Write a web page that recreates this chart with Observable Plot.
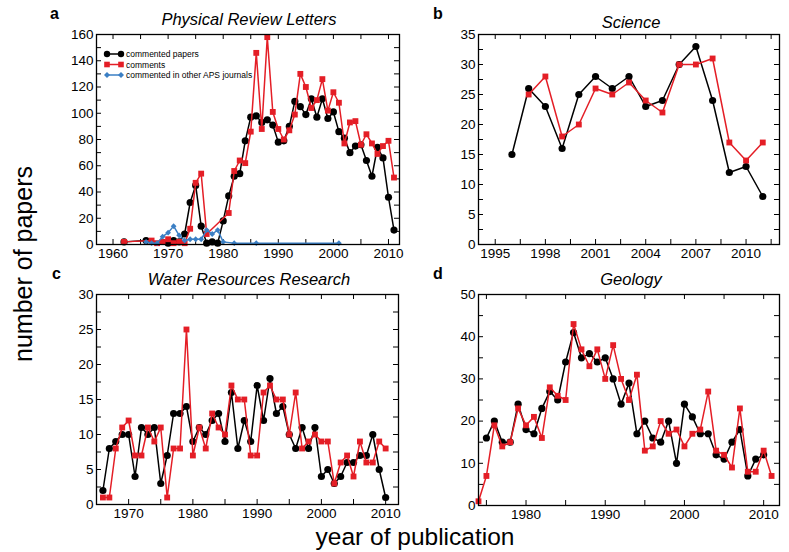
<!DOCTYPE html>
<html>
<head>
<meta charset="utf-8">
<script src="https://cdn.jsdelivr.net/npm/d3@7"></script>
<script src="https://cdn.jsdelivr.net/npm/@observablehq/plot@0.6"></script>
<style>
  html, body { margin: 0; padding: 0; background: #fff; }
  #wrap { position: relative; width: 789px; height: 552px; overflow: hidden; background: #fff;
          font-family: "Liberation Sans", Arial, Helvetica, sans-serif; }
  .panel { position: absolute; }
  #overlay { position: absolute; left: 0; top: 0; pointer-events: none; }
  #overlay text { font-family: "Liberation Sans", Arial, Helvetica, sans-serif; fill: #000; }
</style>
</head>
<body>
<div id="wrap">
  <div class="panel" id="pa" style="left:0px;top:0px"></div>
  <div class="panel" id="pb" style="left:400px;top:0px"></div>
  <div class="panel" id="pc" style="left:0px;top:262px"></div>
  <div class="panel" id="pd" style="left:400px;top:262px"></div>
  <svg id="overlay" width="789" height="552" viewBox="0 0 789 552">
    <text x="50" y="19" font-size="16" font-weight="bold">a</text>
    <text x="433" y="19" font-size="16" font-weight="bold">b</text>
    <text x="52" y="279" font-size="16" font-weight="bold">c</text>
    <text x="433" y="279" font-size="16" font-weight="bold">d</text>
    <text x="249" y="25" font-size="16.5" font-style="italic" text-anchor="middle">Physical Review Letters</text>
    <text x="631" y="28" font-size="16.5" font-style="italic" text-anchor="middle">Science</text>
    <text x="249" y="285" font-size="16.5" font-style="italic" text-anchor="middle">Water Resources Research</text>
    <text x="631" y="285" font-size="16.5" font-style="italic" text-anchor="middle">Geology</text>
    <text transform="translate(32,264) rotate(-90)" font-size="25" text-anchor="middle">number of papers</text>
    <text x="415" y="545" font-size="24.5" text-anchor="middle">year of publication</text>
    <g id="legend">
      <line x1="107" y1="54" x2="121" y2="54" stroke="#000" stroke-width="1.5"/>
      <circle cx="107" cy="54" r="3.2" fill="#000"/>
      <circle cx="121" cy="54" r="3.2" fill="#000"/>
      <text x="126" y="57" font-size="8.5">commented papers</text>
      <line x1="107" y1="64.5" x2="121" y2="64.5" stroke="#e41e26" stroke-width="1.5"/>
      <rect x="104.2" y="61.7" width="5.6" height="5.6" fill="#e41e26"/>
      <rect x="118.2" y="61.7" width="5.6" height="5.6" fill="#e41e26"/>
      <text x="126" y="67.5" font-size="8.5">comments</text>
      <line x1="107" y1="75" x2="121" y2="75" stroke="#3b7fc4" stroke-width="1.5"/>
      <path d="M107,72 L110,75 L107,78 L104,75 Z" fill="#3b7fc4"/>
      <path d="M121,72 L124,75 L121,78 L118,75 Z" fill="#3b7fc4"/>
      <text x="126" y="78" font-size="8.5">commented in other APS journals</text>
    </g>
  </svg>
</div>
<script>
// ---------------- DATA ----------------
// (a) Physical Review Letters
const prlPaperYears = [1962,1966,1970,1971,1972,1973,1974,1975,1976,1977,1978,1979,1980,1981,1982,1983,1984,1985,1986,1987,1988,1989,1990,1991,1992,1993,1994,1995,1996,1997,1998,1999,2000,2001,2002,2003,2004,2005,2006,2007,2008,2009,2010,2011];
const prlPapers = [2,3,1,3,2,8,32,45,14,1,2,1,18,37,52,54,79,97,98,93,95,91,78,79,90,109,105,99,111,97,111,96,101,86,81,70,75,76,64,52,74,66,36,11];
const prlCommentYears = [1962,1967,1968,1969,1970,1971,1972,1973,1974,1975,1976,1977,1981,1982,1983,1984,1985,1986,1987,1988,1989,1990,1991,1992,1993,1994,1995,1996,1997,1998,1999,2000,2001,2002,2003,2004,2005,2006,2007,2008,2009,2010,2011];
const prlComments = [2,3,1,2,4,1,2,1,12,47,54,8,24,56,64,62,86,146,88,158,101,88,80,87,99,130,120,104,110,126,102,116,108,77,93,94,76,84,77,69,75,79,51];
const prlOtherYears = [1966,1967,1968,1969,1970,1971,1972,1973,1974,1975,1976,1977,1978,1979,1980,1982,1986,2001];
const prlOther = [2,1,1,6,9,14,7,3,4,4,4,11,8,11,2,1,1,1];
const prlXTicks = [1960,1965,1970,1975,1980,1985,1990,1995,2000,2005,2010];
const prlXLabels = [1960,1970,1980,1990,2000,2010];
const prlYTicks = [0,10,20,30,40,50,60,70,80,90,100,110,120,130,140,150,160];
const prlYLabels = [0,20,40,60,80,100,120,140,160];

// (b) Science
const sciPaperYears = [1996,1997,1998,1999,2000,2001,2002,2003,2004,2005,2006,2007,2008,2009,2010,2011];
const sciPapers = [15,26,23,16,25,28,26,28,23,24,30,33,24,12,13,8];
const sciCommentYears = [1997,1998,1999,2000,2001,2002,2003,2004,2005,2006,2007,2008,2009,2010,2011];
const sciComments = [25,28,18,20,26,25,27,24,22,30,30,31,17,14,17];
const sciXTicks = [1995,1996.5,1998,1999.5,2001,2002.5,2004,2005.5,2007,2008.5,2010,2011.5];
const sciXLabels = [1995,1998,2001,2004,2007,2010];
const sciYTicks = [0,2.5,5,7.5,10,12.5,15,17.5,20,22.5,25,27.5,30,32.5,35];
const sciYLabels = [0,5,10,15,20,25,30,35];

// (c) Water Resources Research
const wrrYears = [1966,1967,1968,1969,1970,1971,1972,1973,1974,1975,1976,1977,1978,1979,1980,1981,1982,1983,1984,1985,1986,1987,1988,1989,1990,1991,1992,1993,1994,1995,1996,1997,1998,1999,2000,2001,2002,2003,2004,2005,2006,2007,2008,2009,2010];
const wrrPapers = [2,8,9,10,10,4,11,10,11,3,7,13,13,14,9,11,10,12,13,9,16,8,12,9,17,12,18,13,14,10,8,11,8,11,4,5,3,4,6,6,7,7,10,5,1];
const wrrComments = [1,1,8,11,12,7,7,11,9,11,1,8,8,25,7,11,8,13,11,10,17,15,15,7,7,16,17,15,15,10,16,8,9,10,9,9,3,6,7,4,9,6,6,9,8];
const wrrXTicks = [1965,1970,1975,1980,1985,1990,1995,2000,2005,2010];
const wrrXLabels = [1970,1980,1990,2000,2010];
const wrrYTicks = [0,2.5,5,7.5,10,12.5,15,17.5,20,22.5,25,27.5,30];
const wrrYLabels = [0,5,10,15,20,25,30];

// (d) Geology
const geoPaperYears = [1975,1976,1977,1978,1979,1980,1981,1982,1983,1984,1985,1986,1987,1988,1989,1990,1991,1992,1993,1994,1995,1996,1997,1998,1999,2000,2001,2002,2003,2004,2005,2006,2007,2008,2009,2010];
const geoPapers = [16,20,15,15,24,18,17,23,27,25,34,41,35,36,34,35,30,24,29,17,20,16,15,20,10,24,21,17,17,12,11,15,18,7,11,12];
const geoCommentYears = [1974,1975,1976,1977,1978,1979,1980,1981,1982,1983,1984,1985,1986,1987,1988,1989,1990,1991,1992,1993,1994,1995,1996,1997,1998,1999,2000,2001,2002,2003,2004,2005,2006,2007,2008,2009,2010,2011];
const geoComments = [1,7,19,14,15,23,19,21,16,28,26,25,43,37,33,37,30,38,30,25,31,13,14,20,17,18,14,17,18,27,13,12,9,23,8,8,13,7];
const geoXTicks = [1975,1980,1985,1990,1995,2000,2005,2010];
const geoXLabels = [1980,1990,2000,2010];
const geoYTicks = [0,5,10,15,20,25,30,35,40,45,50];
const geoYLabels = [0,10,20,30,40,50];

// ---------------- STYLE ----------------
const BLACK = "#000000";
const RED = "#e41e26";
const BLUE = "#3b7fc4";
const diamond = d3.symbolDiamond2 || "diamond";

function rows(years, vals) { return years.map((y, i) => ({year: y, n: vals[i]})); }

function panel(el, cfg) {
  const H = cfg.height - cfg.mt - cfg.mb;
  const W = cfg.width - cfg.ml - cfg.mr;
  const tk = 5;
  const marks = [];
  // tick marks, inward on all four sides
  marks.push(Plot.ruleX(cfg.xTicks, {x: d => d, insetTop: H - tk, stroke: BLACK, strokeWidth: 1}));
  marks.push(Plot.ruleX(cfg.xTicks, {x: d => d, insetBottom: H - tk, stroke: BLACK, strokeWidth: 1}));
  marks.push(Plot.ruleY(cfg.yTicks, {y: d => d, insetRight: W - tk, stroke: BLACK, strokeWidth: 1}));
  marks.push(Plot.ruleY(cfg.yTicks, {y: d => d, insetLeft: W - tk, stroke: BLACK, strokeWidth: 1}));
  marks.push(Plot.axisX(cfg.xLabels, {anchor: "bottom", tickSize: 0, tickPadding: 4, label: null, fontSize: 13.5, tickFormat: d => String(d)}));
  marks.push(Plot.axisY(cfg.yLabels, {anchor: "left", tickSize: 0, tickPadding: 3, label: null, fontSize: 13.5, tickFormat: d => String(d)}));
  for (const s of cfg.series) {
    marks.push(Plot.line(s.data, {x: "year", y: "n", stroke: s.color, strokeWidth: 1.5}));
    marks.push(Plot.dot(s.data, {x: "year", y: "n", fill: s.color, symbol: s.symbol, r: s.r}));
  }
  marks.push(Plot.frame({stroke: BLACK, strokeWidth: 1.3}));
  const svg = Plot.plot({
    width: cfg.width, height: cfg.height,
    marginLeft: cfg.ml, marginRight: cfg.mr, marginTop: cfg.mt, marginBottom: cfg.mb,
    x: {domain: cfg.xDomain, axis: null},
    y: {domain: cfg.yDomain, axis: null},
    style: {background: "transparent", fontFamily: "'Liberation Sans', Arial, Helvetica, sans-serif", fontSize: "13.5px", color: "#000", overflow: "visible"},
    marks
  });
  document.getElementById(el).appendChild(svg);
}

const blackS = d => ({data: d, color: BLACK, symbol: "circle", r: 3.6});
const redS = d => ({data: d, color: RED, symbol: "square", r: 3.3});
const blueS = d => ({data: d, color: BLUE, symbol: diamond, r: 2.6});

panel("pa", {
  width: 400, height: 262, ml: 96, mr: 1, mt: 34, mb: 18,
  xDomain: [1957, 2012], yDomain: [0, 160],
  xTicks: prlXTicks, xLabels: prlXLabels, yTicks: prlYTicks, yLabels: prlYLabels,
  series: [blackS(rows(prlPaperYears, prlPapers)), redS(rows(prlCommentYears, prlComments)), blueS(rows(prlOtherYears, prlOther))]
});
panel("pb", {
  width: 389, height: 262, ml: 78, mr: 10, mt: 34, mb: 18,
  xDomain: [1994, 2012], yDomain: [0, 35],
  xTicks: sciXTicks, xLabels: sciXLabels, yTicks: sciYTicks, yLabels: sciYLabels,
  series: [blackS(rows(sciPaperYears, sciPapers)), redS(rows(sciCommentYears, sciComments))]
});
panel("pc", {
  width: 400, height: 262, ml: 96, mr: 2, mt: 32, mb: 20,
  xDomain: [1965, 2012], yDomain: [0, 30],
  xTicks: wrrXTicks, xLabels: wrrXLabels, yTicks: wrrYTicks, yLabels: wrrYLabels,
  series: [blackS(rows(wrrYears, wrrPapers)), redS(rows(wrrYears, wrrComments))]
});
panel("pd", {
  width: 389, height: 262, ml: 78, mr: 10, mt: 32, mb: 19,
  xDomain: [1974, 2012], yDomain: [0, 50],
  xTicks: geoXTicks, xLabels: geoXLabels, yTicks: geoYTicks, yLabels: geoYLabels,
  series: [blackS(rows(geoPaperYears, geoPapers)), redS(rows(geoCommentYears, geoComments))]
});
</script>
</body>
</html>
